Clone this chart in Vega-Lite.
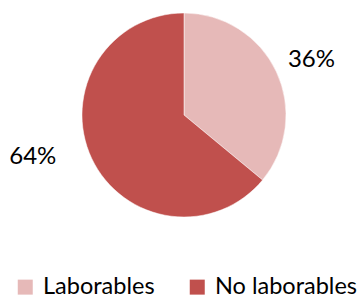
{
  "$schema": "https://vega.github.io/schema/vega-lite/v6.json",
  "width": 361,
  "height": 230,
  "autosize": "none",
  "padding": {"left": 3.5, "top": 0, "right": 0, "bottom": 68},
  "background": "white",
  "data": {"values": [
    {"cat": "Laborables", "value": 36, "label": "36%", "ord": 1},
    {"cat": "No laborables", "value": 64, "label": "64%", "ord": 2}
  ]},
  "encoding": {
    "theta": {"field": "value", "type": "quantitative", "stack": true},
    "order": {"field": "ord", "type": "quantitative"}
  },
  "layer": [
    {
      "mark": {"type": "arc", "outerRadius": 102, "stroke": "white", "strokeWidth": 0.5},
      "encoding": {
        "color": {
          "field": "cat", "type": "nominal",
          "scale": {"domain": ["Laborables", "No laborables"], "range": ["#E6B9B8", "#C0504D"]},
          "legend": {
            "title": null, "orient": "none", "direction": "horizontal",
            "legendX": 10, "legendY": 275,
            "symbolType": "square", "symbolSize": 225, "symbolStrokeWidth": 0,
            "labelFont": "Lato", "labelFontSize": 23.5, "labelColor": "#000000",
            "columnPadding": 30, "symbolOffset": 0, "labelOffset": 6, "labelLimit": 300
          }
        }
      }
    },
    {
      "transform": [{"filter": "datum.cat === 'Laborables'"}],
      "mark": {"type": "text", "radius": 139, "font": "Lato", "fontSize": 24, "color": "#000000", "theta": 1.16, "dy": 1},
      "encoding": {"text": {"field": "label"}, "theta": null}
    },
    {
      "transform": [{"filter": "datum.cat === 'No laborables'"}],
      "mark": {"type": "text", "radius": 157, "font": "Lato", "fontSize": 24, "color": "#000000", "theta": 4.44},
      "encoding": {"text": {"field": "label"}, "theta": null}
    }
  ]
}
